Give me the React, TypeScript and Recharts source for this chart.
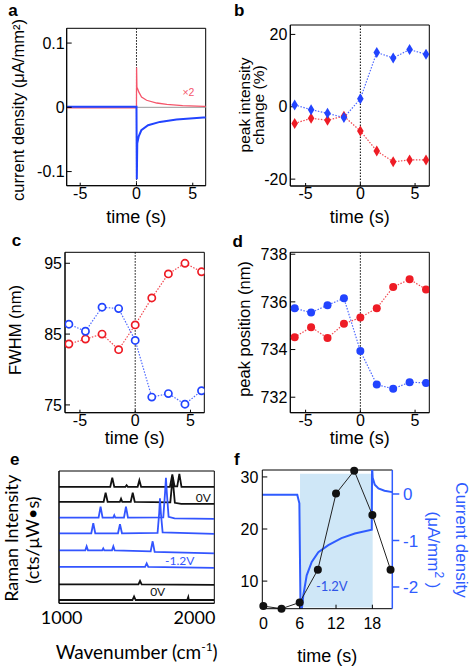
import React from 'react';
import {
  LineChart,
  ComposedChart,
  Line,
  XAxis,
  YAxis,
  ReferenceLine,
  ReferenceArea,
  ReferenceDot,
  Label,
} from 'recharts';

const SANS = '"Liberation Sans", Arial, Helvetica, sans-serif';
const HUM = 'Lato, "Open Sans", sans-serif';
const BLUE = '#2244ff';
const RED = '#ee1c25';
const PINK = '#f5566b';
const SPEC_BLUE = '#3355ff';
const CUR_BLUE = '#2f5cff';
const SHADE = '#cfe7f7';

// ---------------- panel a : current density ----------------
const aBlueTime = [-6.2, 0.0, 0.03, 0.07, 0.2, 0.43, 1.03, 2.08, 3.56, 5.95, 6.2];
const aBlueCurrent = [0.0008, 0.0008, -0.112, -0.056, -0.045, -0.0357, -0.0279, -0.0227, -0.0191, -0.016, -0.0158];
const aRedTime = [-6.2, 0.0, 0.01, 0.04, 0.1, 0.2, 0.45, 0.9, 1.8, 2.7, 4.1, 6.0, 6.2];
const aRedCurrent = [-0.0008, -0.0008, 0.062, 0.031, 0.029, 0.024, 0.016, 0.011, 0.0067, 0.0047, 0.0026, 0.0016, 0.0016];
const aXTicks = [-5, 0, 5];
const aYTicks = [-0.1, 0, 0.1];
const aXDomain = [-6.2, 6.15];
const aYDomain = [-0.122, 0.123];

// ---------------- panels b-d : time series ----------------
const scanTime = [-6, -4.5, -3, -1.5, 0, 1.5, 3, 4.5, 6];
const bBlue = [0.5, -0.8, -1.8, -3.0, 2.2, 15.0, 13.5, 15.8, 14.5];
const bRed = [-4.6, -3.2, -3.7, -2.6, -6.7, -12.2, -15.2, -14.7, -14.7];
const cBlue = [86.4, 85.4, 88.8, 88.6, 84.1, 76.1, 76.6, 75.1, 77.0];
const cRed = [83.6, 84.3, 85.0, 82.8, 86.3, 90.1, 93.5, 95.0, 93.8];
const dBlue = [735.73, 735.55, 735.86, 736.15, 733.94, 732.53, 732.35, 732.63, 732.6];
const dRed = [734.52, 734.94, 734.48, 735.08, 735.34, 735.73, 736.62, 736.95, 736.52];
const bYTicks = [-20, 0, 20];
const cYTicks = [75, 85, 95];
const dYTicks = [732, 734, 736, 738];
const bXDomain = [-6.4, 6.3];
const cXDomain = [-6.35, 6.25];
const bYDomain = [-21.9, 22.6];
const cYDomain = [73.9, 96.55];
const dYDomain = [731.35, 738.08];

// ---------------- panel e : stacked Raman spectra (wavenumber, offset intensity) ----------------
const eTrace1 = [[980, 116.5], [1366, 116.5], [1381, 125.5], [1396, 116.5], [1480, 116.5], [1489, 118], [1498, 116.5], [1572, 116.5], [1585, 123], [1598, 116.5], [1815, 116.5], [1833, 129], [1850, 117], [1870, 117], [1886, 129.5], [1902, 116.5], [2149, 116.5]];
const eTrace2 = [[980, 101.5], [1316, 101.5], [1331, 110.5], [1346, 101.5], [1438, 101.5], [1447, 104.5], [1456, 101.5], [1520, 101.5], [1535, 110.5], [1550, 101.5], [1818, 101], [1835, 126], [1852, 100.5], [1900, 99.5], [2149, 99.5]];
const eTrace3 = [[980, 85.6], [1278, 85.6], [1293, 96.6], [1308, 85.6], [1388, 85.6], [1396, 88], [1404, 85.6], [1469, 85.6], [1484, 96.6], [1499, 85.6], [1765, 86], [1778, 110], [1785, 125.5], [1792, 110], [1805, 86.5], [1850, 85], [2149, 84.5]];
const eTrace4 = [[980, 70], [1223, 70], [1238, 80], [1253, 70], [1424, 70], [1439, 79], [1454, 70], [1722, 70.5], [1734, 90], [1740, 105], [1747, 90], [1760, 71], [2149, 69.5]];
const eTrace5 = [[980, 53], [1178, 53], [1188, 57], [1198, 53], [1305, 53], [1313, 55], [1321, 53], [1379, 53], [1389, 57], [1399, 53], [1670, 52], [1685, 62], [1700, 51.5], [2149, 50]];
const eTrace6 = [[980, 36.5], [1628, 36.5], [1640, 40], [1652, 36.5], [2149, 35.5]];
const eTrace7 = [[980, 19], [1578, 19], [1590, 22.5], [1602, 19], [2149, 18.5]];
const eTrace8 = [[980, 3.3], [1533, 3.3], [1545, 6.8], [1557, 3.3], [1945, 3.3], [1953, 6.3], [1957, 3.3], [2149, 3.3]];
const eTraceColors = ['#111', '#111', SPEC_BLUE, SPEC_BLUE, SPEC_BLUE, SPEC_BLUE, '#111', '#111'];
const eXTicks = [1000, 2000];
const eXDomain = [980, 2149];
const eYDomain = [0, 132.3];
const eAnnotations = [
  { x: 2066, y: 105.5, text: '0V', color: '#111' },
  { x: 1889, y: 42.5, text: '-1.2V', color: SPEC_BLUE },
  { x: 1723, y: 11.1, text: '0V', color: '#111' },
];

// ---------------- panel f ----------------
const fTime = [0, 3, 6, 9, 12, 15, 18, 21];
const fRaman = [5.2, 4.7, 5.9, 12.2, 26.8, 31.2, 22.7, 12.2];
const fCurTime = [-0.17, 5.6, 5.95, 6.15, 6.25, 6.6, 7.16, 7.99, 9.08, 10.73, 12.9, 15.1, 17.9, 17.95, 18.05, 18.4, 19.0, 20.0, 21.29];
const fCurrent = [-0.015, -0.015, -0.2, -2.6, -2.6, -2.18, -1.75, -1.46, -1.25, -1.1, -0.95, -0.85, -0.77, 0.6, 0.35, 0.2, 0.12, 0.07, 0.04];
const fXTicks = [0, 6, 12, 18];
const fLTicks = [10, 20, 30];
const fRTicks = [-2, -1, 0];
const fXDomain = [-0.17, 21.29];
const fLDomain = [4.91, 31.33];
const fRDomain = [-2.467, 0.516];
const fBiasWindow = [6.06, 18.05];
const fShadeTop = 30.6;

// ---------------- helpers ----------------
const zip = (xs: number[], ys: number[]) => xs.map((x, i) => ({ x, y: ys[i] }));
const pairs = (ps: number[][]) => ps.map((p) => ({ x: p[0], y: p[1] }));
const scanRows = (blue: number[], red: number[]) => scanTime.map((t, i) => ({ x: t, blue: blue[i], red: red[i] }));

const axisTick = { fontSize: 16, fontFamily: SANS, fill: '#000' };
const blackLine = { stroke: '#000', strokeWidth: 1 };

const hText = (x: number, y: number, content: React.ReactNode, size: number, o: any = {}) => () => (
  <text x={x} y={y} fontSize={size} fontFamily={o.family ?? SANS} fill={o.color ?? '#000'} textAnchor={o.anchor ?? 'middle'} fontWeight={o.weight}>
    {content}
  </text>
);
const vText = (cx: number, cy: number, content: React.ReactNode, size: number, angle: number, o: any = {}) => () => (
  <text x={cx} y={cy} dy="0.35em" transform={`rotate(${angle} ${cx} ${cy})`} fontSize={size} fontFamily={o.family ?? SANS} fill={o.color ?? '#000'} textAnchor="middle">
    {content}
  </text>
);
const dotText = (content: string, size: number, color: string, family: string) => (p: any) => {
  const vb = p.viewBox || {};
  const cx = (vb.x ?? 0) + (vb.width ?? 0) / 2;
  const cy = (vb.y ?? 0) + (vb.height ?? 0) / 2;
  return (
    <text x={cx} y={cy} dy="0.35em" textAnchor="middle" fontSize={size} fontFamily={family} fill={color}>
      {content}
    </text>
  );
};

const diamondDot = (color: string) => (p: any) => {
  if (p.cx == null || p.cy == null) return <g key={`dd${p.index}`} />;
  return (
    <polygon
      key={`dd${color}${p.index}`}
      points={`${p.cx},${p.cy - 5.5} ${p.cx + 3.3},${p.cy} ${p.cx},${p.cy + 5.5} ${p.cx - 3.3},${p.cy}`}
      fill={color}
    />
  );
};
const ringDot = (color: string) => (p: any) => {
  if (p.cx == null || p.cy == null) return <g key={`rd${p.index}`} />;
  return <circle key={`rd${color}${p.index}`} cx={p.cx} cy={p.cy} r={3.6} fill="#fff" stroke={color} strokeWidth={1.7} />;
};
const discDot = (color: string, r: number) => (p: any) => {
  if (p.cx == null || p.cy == null) return <g key={`cd${p.index}`} />;
  return <circle key={`cd${color}${p.index}`} cx={p.cx} cy={p.cy} r={r} fill={color} />;
};

// ---------------- panels ----------------
function PanelA() {
  return (
    <LineChart width={236} height={230} margin={{ top: 28.3, right: 30.3, bottom: 0, left: 0 }}>
      <XAxis dataKey="x" type="number" domain={aXDomain} ticks={aXTicks} interval={0} allowDataOverflow height={44.3}
        tickSize={-3} tickMargin={5} tick={axisTick} axisLine={blackLine} tickLine={blackLine}>
        <Label content={hText(136.2, 223, 'time (s)', 18)} />
      </XAxis>
      <YAxis type="number" domain={aYDomain} ticks={aYTicks} interval={0} allowDataOverflow width={66.7}
        tickSize={-5} tickMargin={7} tick={axisTick} axisLine={blackLine} tickLine={blackLine}>
        <Label content={vText(18, 110, 'current density (μA/mm²)', 16.5, -90)} />
      </YAxis>
      <ReferenceArea x1={aXDomain[0]} x2={aXDomain[1]} y1={aYDomain[0]} y2={aYDomain[1]} fill="none" stroke="#000" strokeWidth={1} />
      <ReferenceLine y={0} stroke="#9a9a9a" strokeWidth={1} />
      <ReferenceLine x={0} stroke="#000" strokeDasharray="1.5 1.5" strokeWidth={1} />
      <Line data={zip(aRedTime, aRedCurrent)} dataKey="y" stroke={PINK} strokeWidth={1.3} dot={false} isAnimationActive={false} />
      <Line data={zip(aBlueTime, aBlueCurrent)} dataKey="y" stroke={BLUE} strokeWidth={2} dot={false} isAnimationActive={false} />
      <ReferenceDot x={4.62} y={0.0237} r={1} fill="none" stroke="none" label={<Label content={dotText('×2', 10.5, PINK, SANS)} />} />
    </LineChart>
  );
}

function ScanPanel(props: {
  rows: any[]; yDomain: number[]; xDomain: number[]; yTicks: number[]; yAxisW: number; marginR: number; top: number; xAxisH: number;
  titleY: number; titleSize: number; titles: { x: number; y: number; text: string }[]; dot: (c: string) => any;
}) {
  const { rows, yDomain, xDomain, yTicks, yAxisW, marginR, top, xAxisH, titleY, titleSize, titles, dot } = props;
  const cx = (yAxisW + (236 - marginR)) / 2;
  return (
    <LineChart width={236} height={230} data={rows} margin={{ top, right: marginR, bottom: 0, left: 0 }}>
      <XAxis dataKey="x" type="number" domain={xDomain} ticks={aXTicks} interval={0} allowDataOverflow height={xAxisH}
        tickSize={-3} tickMargin={5} tick={axisTick} axisLine={blackLine} tickLine={blackLine}>
        <Label content={hText(cx, titleY, 'time (s)', 18)} />
      </XAxis>
      <YAxis type="number" domain={yDomain} ticks={yTicks} interval={0} allowDataOverflow width={yAxisW}
        tickSize={-5} tickMargin={8} tick={axisTick} axisLine={blackLine} tickLine={blackLine}>
        <Label content={() => (
          <g>
            {titles.map((t, i) => (
              <React.Fragment key={i}>{vText(t.x, t.y, t.text, titleSize, -90)()}</React.Fragment>
            ))}
          </g>
        )} />
      </YAxis>
      <ReferenceArea x1={xDomain[0]} x2={xDomain[1]} y1={yDomain[0]} y2={yDomain[1]} fill="none" stroke="#000" strokeWidth={1} />
      <ReferenceLine x={0} stroke="#000" strokeDasharray="1.5 1.5" strokeWidth={1} />
      <Line dataKey="red" stroke={RED} strokeOpacity={0.8} strokeWidth={1.2} strokeDasharray="1.5 1.5" dot={dot(RED)} isAnimationActive={false} />
      <Line dataKey="blue" stroke={BLUE} strokeOpacity={0.8} strokeWidth={1.2} strokeDasharray="1.5 1.5" dot={dot(BLUE)} isAnimationActive={false} />
    </LineChart>
  );
}

function PanelE() {
  const traces = [eTrace1, eTrace2, eTrace3, eTrace4, eTrace5, eTrace6, eTrace7, eTrace8];
  return (
    <LineChart width={236} height={228} margin={{ top: 31, right: 21.7, bottom: 0, left: 0 }}>
      <XAxis dataKey="x" type="number" domain={eXDomain} ticks={eXTicks} interval={0} allowDataOverflow height={64.7}
        tickSize={0} tickMargin={8} tickLine={false} tick={{ fontSize: 18, fontFamily: HUM, fill: '#000' }} axisLine={blackLine}>
        <Label content={() => (
          <text x={136.7} y={219} textAnchor="middle" fontSize={19} fontFamily={HUM} fill="#000">
            Wavenumber (cm<tspan dy={-8} fontSize={12}>-1</tspan><tspan dy={8}>)</tspan>
          </text>
        )} />
      </XAxis>
      <YAxis type="number" domain={eYDomain} allowDataOverflow width={59} tick={false} tickLine={false} axisLine={blackLine}>
        <Label content={() => (
          <g>
            {vText(12, 98.3, 'Raman Intensity', 18, -90, { family: HUM })()}
            {vText(32.5, 100, '(cts/μW•s)', 18, -90, { family: HUM })()}
          </g>
        )} />
      </YAxis>
      <ReferenceArea x1={eXDomain[0]} x2={eXDomain[1]} y1={eYDomain[0]} y2={eYDomain[1]} fill="none" stroke="#000" strokeWidth={1} />
      {traces.map((tr, i) => (
        <Line key={i} data={pairs(tr)} dataKey="y" stroke={eTraceColors[i]} strokeWidth={1.8} dot={false} isAnimationActive={false} />
      ))}
      {eAnnotations.map((a, i) => (
        <ReferenceDot key={`an${i}`} x={a.x} y={a.y} r={1} fill="none" stroke="none" label={<Label content={dotText(a.text, 12, a.color, HUM)} />} />
      ))}
    </LineChart>
  );
}

function PanelF() {
  return (
    <ComposedChart width={236} height={228} margin={{ top: 30, right: 0, bottom: 0, left: 0 }}>
      <XAxis dataKey="x" type="number" domain={fXDomain} ticks={fXTicks} interval={0} height={59.3}
        tickSize={-4} tickMargin={12.6} tick={axisTick} axisLine={blackLine} tickLine={blackLine}>
        <Label content={hText(91.3, 222, 'time (s)', 18)} />
      </XAxis>
      <YAxis yAxisId="L" type="number" domain={fLDomain} ticks={fLTicks} interval={0} width={26.3}
        tickSize={-5} tickMargin={9} tick={axisTick} axisLine={blackLine} tickLine={blackLine} />
      <YAxis yAxisId="R" orientation="right" type="number" domain={fRDomain} ticks={fRTicks} interval={0} allowDataOverflow width={79.7}
        tickSize={7} tickMargin={3.7} tick={{ fontSize: 17, fontFamily: SANS, fill: CUR_BLUE }}
        axisLine={{ stroke: CUR_BLUE, strokeWidth: 1.5 }} tickLine={{ stroke: CUR_BLUE, strokeWidth: 1.5 }}>
        <Label content={() => (
          <g>
            {vText(225.5, 100, 'Current density', 17, 90, { color: CUR_BLUE })()}
            {vText(197.5, 110, <>(μA/mm<tspan dy={-7} fontSize={12}>2</tspan><tspan dy={7}> )</tspan></>, 17, 90, { color: CUR_BLUE })()}
          </g>
        )} />
      </YAxis>
      <ReferenceArea yAxisId="L" x1={fBiasWindow[0]} x2={fBiasWindow[1]} y1={fLDomain[0]} y2={fShadeTop} fill={SHADE} fillOpacity={1} stroke="none" />
      <ReferenceLine yAxisId="L" y={fLDomain[1]} stroke="#000" strokeWidth={1} />
      <Line yAxisId="R" data={zip(fCurTime, fCurrent)} dataKey="y" stroke={CUR_BLUE} strokeWidth={2} dot={false} isAnimationActive={false} />
      <Line yAxisId="L" data={zip(fTime, fRaman)} dataKey="y" stroke="#222" strokeWidth={1} dot={discDot('#111', 4)} isAnimationActive={false} />
      <ReferenceDot yAxisId="L" x={11.3} y={9.05} r={1} fill="none" stroke="none" label={<Label content={dotText('-1.2V', 13, '#2f55e8', HUM)} />} />
    </ComposedChart>
  );
}

const panelLetters = [
  { t: 'a', x: 8.3, y: 16 },
  { t: 'b', x: 234, y: 16 },
  { t: 'c', x: 11.7, y: 246 },
  { t: 'd', x: 232.5, y: 247 },
  { t: 'e', x: 10, y: 465 },
  { t: 'f', x: 234, y: 465 },
];

export default function App() {
  return (
    <div style={{ position: 'absolute', left: 0, top: 0, width: 472, height: 668, background: '#fff', overflow: 'hidden' }}>
      <div style={{ position: 'absolute', left: 0, top: 0 }}>
        <PanelA />
      </div>
      <div style={{ position: 'absolute', left: 236, top: 0 }}>
        <ScanPanel rows={scanRows(bBlue, bRed)} yDomain={bYDomain} xDomain={bXDomain} yTicks={bYTicks} yAxisW={54.3} marginR={42.7}
          top={25} xAxisH={44} titleY={223} titleSize={15.5} dot={diamondDot}
          titles={[{ x: 8.3, y: 105, text: 'peak intensity' }, { x: 23, y: 105, text: 'change (%)' }]} />
      </div>
      <div style={{ position: 'absolute', left: 0, top: 220 }}>
        <ScanPanel rows={scanRows(cBlue, cRed)} yDomain={cYDomain} xDomain={cXDomain} yTicks={cYTicks} yAxisW={65} marginR={31.7}
          top={32.3} xAxisH={37.3} titleY={224} titleSize={16.5} dot={ringDot}
          titles={[{ x: 15, y: 110, text: 'FWHM (nm)' }]} />
      </div>
      <div style={{ position: 'absolute', left: 236, top: 220 }}>
        <ScanPanel rows={scanRows(dBlue, dRed)} yDomain={dYDomain} xDomain={bXDomain} yTicks={dYTicks} yAxisW={54.3} marginR={42.7}
          top={32.3} xAxisH={37.3} titleY={224} titleSize={16.5} dot={(c: string) => discDot(c, 4)}
          titles={[{ x: 8.3, y: 109, text: 'peak position (nm)' }]} />
      </div>
      <div style={{ position: 'absolute', left: 0, top: 440 }}>
        <PanelE />
      </div>
      <div style={{ position: 'absolute', left: 236, top: 440 }}>
        <PanelF />
      </div>
      <svg width={472} height={668} style={{ position: 'absolute', left: 0, top: 0, pointerEvents: 'none' }}>
        {panelLetters.map((l) => (
          <text key={l.t} x={l.x} y={l.y} fontSize={17} fontWeight="bold" fontFamily={SANS} fill="#000">
            {l.t}
          </text>
        ))}
      </svg>
    </div>
  );
}
